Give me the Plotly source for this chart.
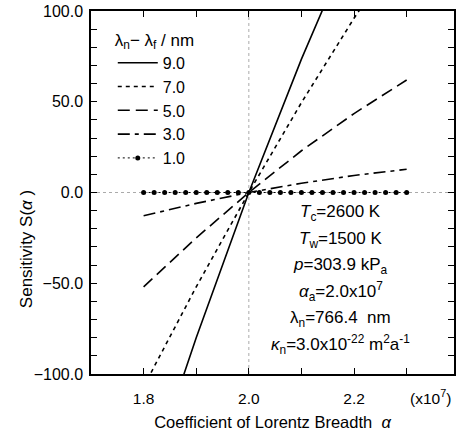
import numpy as np
import plotly.graph_objects as go

# ---- data (alpha in units of 1e7) ----
alpha = [1.8, 1.9, 2.0, 2.1, 2.2, 2.3]
s_9 = [-166.0, -80.0, 0.0, 73.5, 141.0, 202.0]
s_7 = [-107.0, -52.0, 0.0, 49.5, 96.0, 139.5]
s_5 = [-52.0, -25.0, 0.0, 23.0, 43.5, 62.0]
s_3 = [-12.8, -6.0, 0.0, 5.1, 9.4, 12.8]
alpha_dense = [1.80, 1.82, 1.84, 1.86, 1.88, 1.90, 1.92, 1.94, 1.96, 1.98, 2.00,
               2.02, 2.04, 2.06, 2.08, 2.10, 2.12, 2.14, 2.16, 2.18, 2.20,
               2.22, 2.24, 2.26, 2.28, 2.30]
s_1 = [0.0] * len(alpha_dense)
labels = ["9.0", "7.0", "5.0", "3.0", "1.0"]
x_ref = 2.0
x_range = [1.7, 2.39]
y_range = [-100, 100]

FONT = "Liberation Sans, Arial, Helvetica, sans-serif"

fig = go.Figure()
lw = 1.6
fig.add_trace(go.Scatter(x=alpha, y=s_9, mode="lines", name=labels[0],
                         line=dict(color="black", width=lw, dash="solid")))
fig.add_trace(go.Scatter(x=alpha, y=s_7, mode="lines", name=labels[1],
                         line=dict(color="black", width=lw, dash="4px,4px")))
fig.add_trace(go.Scatter(x=alpha, y=s_5, mode="lines", name=labels[2],
                         line=dict(color="black", width=lw, dash="12px,6px")))
fig.add_trace(go.Scatter(x=alpha, y=s_3, mode="lines", name=labels[3],
                         line=dict(color="black", width=lw, dash="12px,5px,4px,5px")))
fig.add_trace(go.Scatter(x=alpha_dense, y=s_1, mode="lines+markers", name=labels[4],
                         line=dict(color="black", width=1, dash="2px,3px"),
                         marker=dict(color="black", size=5, symbol="circle")))

# faint dotted reference lines
fig.add_shape(type="line", xref="x", yref="paper", x0=x_ref, x1=x_ref, y0=0, y1=1,
              line=dict(color="#aaaaaa", width=1, dash="dot"), layer="below")
fig.add_shape(type="line", xref="paper", yref="y", x0=0, x1=1, y0=0, y1=0,
              line=dict(color="#aaaaaa", width=1, dash="dot"), layer="below")

ann_lines = [
    "<i>T</i><sub>c</sub>=2600 K",
    "<i>T</i><sub>w</sub>=1500 K",
    "<i>p</i>=303.9 kP<sub>a</sub>",
    "<i>α</i><sub>a</sub>=2.0x10<sup>7</sup>",
    "λ<sub>n</sub>=766.4  nm",
    "<i>κ</i><sub>n</sub>=3.0x10<sup>-22</sup> m<sup>2</sup>a<sup>-1</sup>",
]
ann_y = [0.4435, 0.369, 0.2975, 0.226, 0.1515, 0.080]
for t, yy in zip(ann_lines, ann_y):
    fig.add_annotation(text=t, xref="paper", yref="paper", x=0.688, y=yy,
                       showarrow=False, xanchor="center", yanchor="middle",
                       font=dict(family=FONT, size=17, color="black"))

fig.add_annotation(text="(x10<sup>7</sup>)", xref="paper", yref="paper",
                   x=0.934, y=-0.063, showarrow=False, xanchor="center",
                   yanchor="middle", font=dict(family=FONT, size=15.5, color="black"))

# y-axis title
fig.add_annotation(text="Sensitivity S(<i>α</i> )", xref="paper", yref="paper",
                   x=-0.178, y=0.345, showarrow=False, textangle=-90,
                   xanchor="center", yanchor="middle",
                   font=dict(family=FONT, size=17, color="black"))

axis_common = dict(showline=True, linecolor="black", linewidth=1.5, mirror="allticks",
                   ticks="inside", ticklen=6, tickwidth=1, tickcolor="black",
                   showgrid=False, zeroline=False)

fig.update_xaxes(range=x_range, tickvals=[1.8, 2.0, 2.2], tickformat=".1f",
                 tickfont=dict(family=FONT, size=15.5, color="black"),
                 ticklabelstandoff=10,
                 minor=dict(dtick=0.1, tick0=1.7, ticks="inside", ticklen=6,
                            tickcolor="black", showgrid=False),
                 title=dict(text="Coefficient of Lorentz Breadth  <i>α</i>",
                            font=dict(family=FONT, size=16.5, color="black"), standoff=10),
                 **axis_common)
fig.update_yaxes(range=y_range, dtick=50, tick0=-100, tickformat=".1f",
                 tickfont=dict(family=FONT, size=16, color="black"),
                 ticklabelstandoff=3,
                 minor=dict(dtick=10, ticks="inside", ticklen=6,
                            tickcolor="black", showgrid=False),
                 **axis_common)

fig.update_layout(
    width=458, height=433,
    margin=dict(l=91, r=2, t=11, b=59),
    paper_bgcolor="white", plot_bgcolor="white",
    font=dict(family=FONT, color="black"),
    showlegend=True,
    legend=dict(x=0.06, y=0.965, xanchor="left", yanchor="top",
                bgcolor="rgba(0,0,0,0)", borderwidth=0,
                font=dict(family=FONT, size=16, color="black"),
                title=dict(text="λ<sub>n</sub>− λ<sub>f</sub> / nm",
                           font=dict(family=FONT, size=17, color="black")),
                tracegroupgap=0, itemwidth=40),
)

fig.write_html("out.html")
